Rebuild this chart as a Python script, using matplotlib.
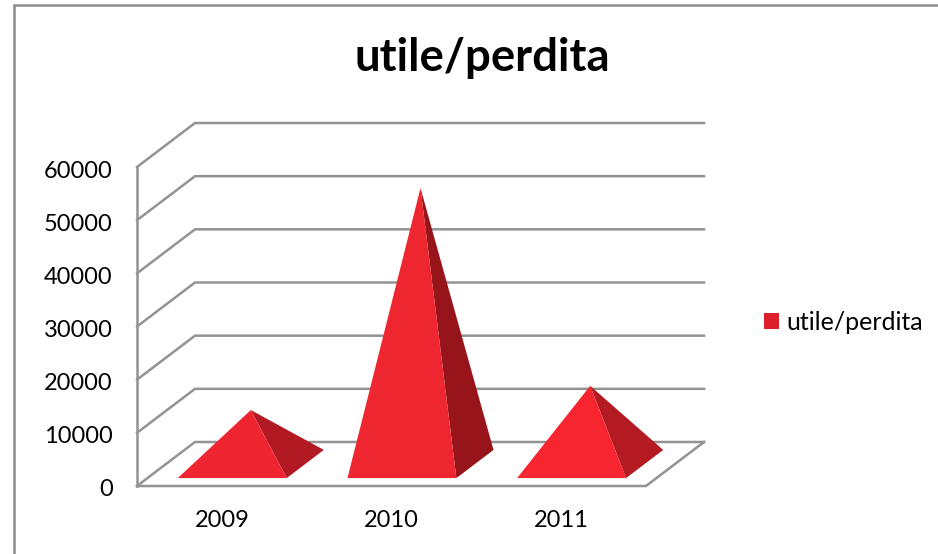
import matplotlib
matplotlib.use("Agg")
import matplotlib.pyplot as plt
from matplotlib.patches import Patch
from matplotlib.lines import Line2D
from matplotlib.transforms import ScaledTranslation

plt.rcParams['font.family'] = ['Lato', 'DejaVu Sans']

categories = ['2009', '2010', '2011']
values = [10150, 51900, 14700]
y_ticks = [0, 10000, 20000, 30000, 40000, 50000, 60000]
series_name = 'utile/perdita'
title_text = 'utile/perdita'
front_colors = ['#EE2430', '#EE2630', '#F6252F']
side_colors = ['#B21A23', '#97141B', '#B31A22']

W, H = 938, 554
fig = plt.figure(figsize=(W / 100, H / 100), dpi=100, facecolor='white')
L, R, B, T = 137, 646, 486, 167
ax = fig.add_axes([L / W, 1 - B / H, (R - L) / W, (B - T) / H])
ax.set_xlim(-0.5, 2.5)
ax.set_ylim(0, 60000)
ax.patch.set_visible(False)
for s in ax.spines.values():
    s.set_visible(False)

DX = 58 / ((R - L) / 3)
DY = 44 / ((B - T) / 60000)
BAR = 0.642
GRID = '#939393'
LW = 1.8


def proj(x, v, depth):
    return x + depth * DX, v + depth * DY


for v in y_ticks:
    x0, y0 = proj(-0.5, v, 0)
    x1, y1 = proj(-0.5, v, 1)
    x2, y2 = proj(2.5, v, 1)
    ax.plot([x0, x1, x2], [y0, y1, y2], color=GRID, lw=LW, clip_on=False,
            solid_joinstyle='miter', zorder=1)
ax.plot([-0.5, 2.5, proj(2.5, 0, 1)[0]], [0, 0, proj(2.5, 0, 1)[1]], color=GRID, lw=LW,
        clip_on=False, zorder=1)
ax.plot([-0.5, -0.5], [0, 60000], color=GRID, lw=LW, clip_on=False, zorder=1)

for i, v in enumerate(values):
    fl = proj(i - BAR / 2, 0, 0.18)
    fr = proj(i + BAR / 2, 0, 0.18)
    br = proj(i + BAR / 2, 0, 0.82)
    apex = proj(i, v, 0.5)
    ax.fill(*zip(fr, br, apex), color=side_colors[i], lw=0, clip_on=False, zorder=2)
    ax.fill(*zip(fl, fr, apex), color=front_colors[i], lw=0, clip_on=False, zorder=3)

ax.set_xticks(range(len(categories)))
ax.set_xticklabels(categories, fontsize=17, color='black')
ax.set_yticks(y_ticks)
ax.set_yticklabels([str(t) for t in y_ticks], fontsize=17, color='black')
ax.tick_params(axis='both', length=0)
ax.tick_params(axis='x', pad=17)
ax.tick_params(axis='y', pad=17.5)
shift = ScaledTranslation(0, -2 / 100, fig.dpi_scale_trans)
for lab in ax.get_yticklabels():
    lab.set_transform(lab.get_transform() + shift)

fig.text(482 / W, 1 - 58 / H, title_text, ha='center', va='center',
         fontsize=32.8, fontweight='bold', color='black')

fig.legend(handles=[Patch(facecolor='#DC1F2B', edgecolor='none', label=series_name)],
           loc='center left', bbox_to_anchor=(764 / W, 1 - 322 / H), frameon=False,
           borderpad=0, borderaxespad=0,
           fontsize=18, handlelength=0.6, handleheight=0.6, handletextpad=0.3)

fig.add_artist(Line2D([14 / W, 14 / W, 1], [0, 1 - 5 / H, 1 - 5 / H], transform=fig.transFigure,
                      color='#8C8C8C', lw=1.8, solid_joinstyle='miter'))

fig.savefig('out.png', dpi=100)
